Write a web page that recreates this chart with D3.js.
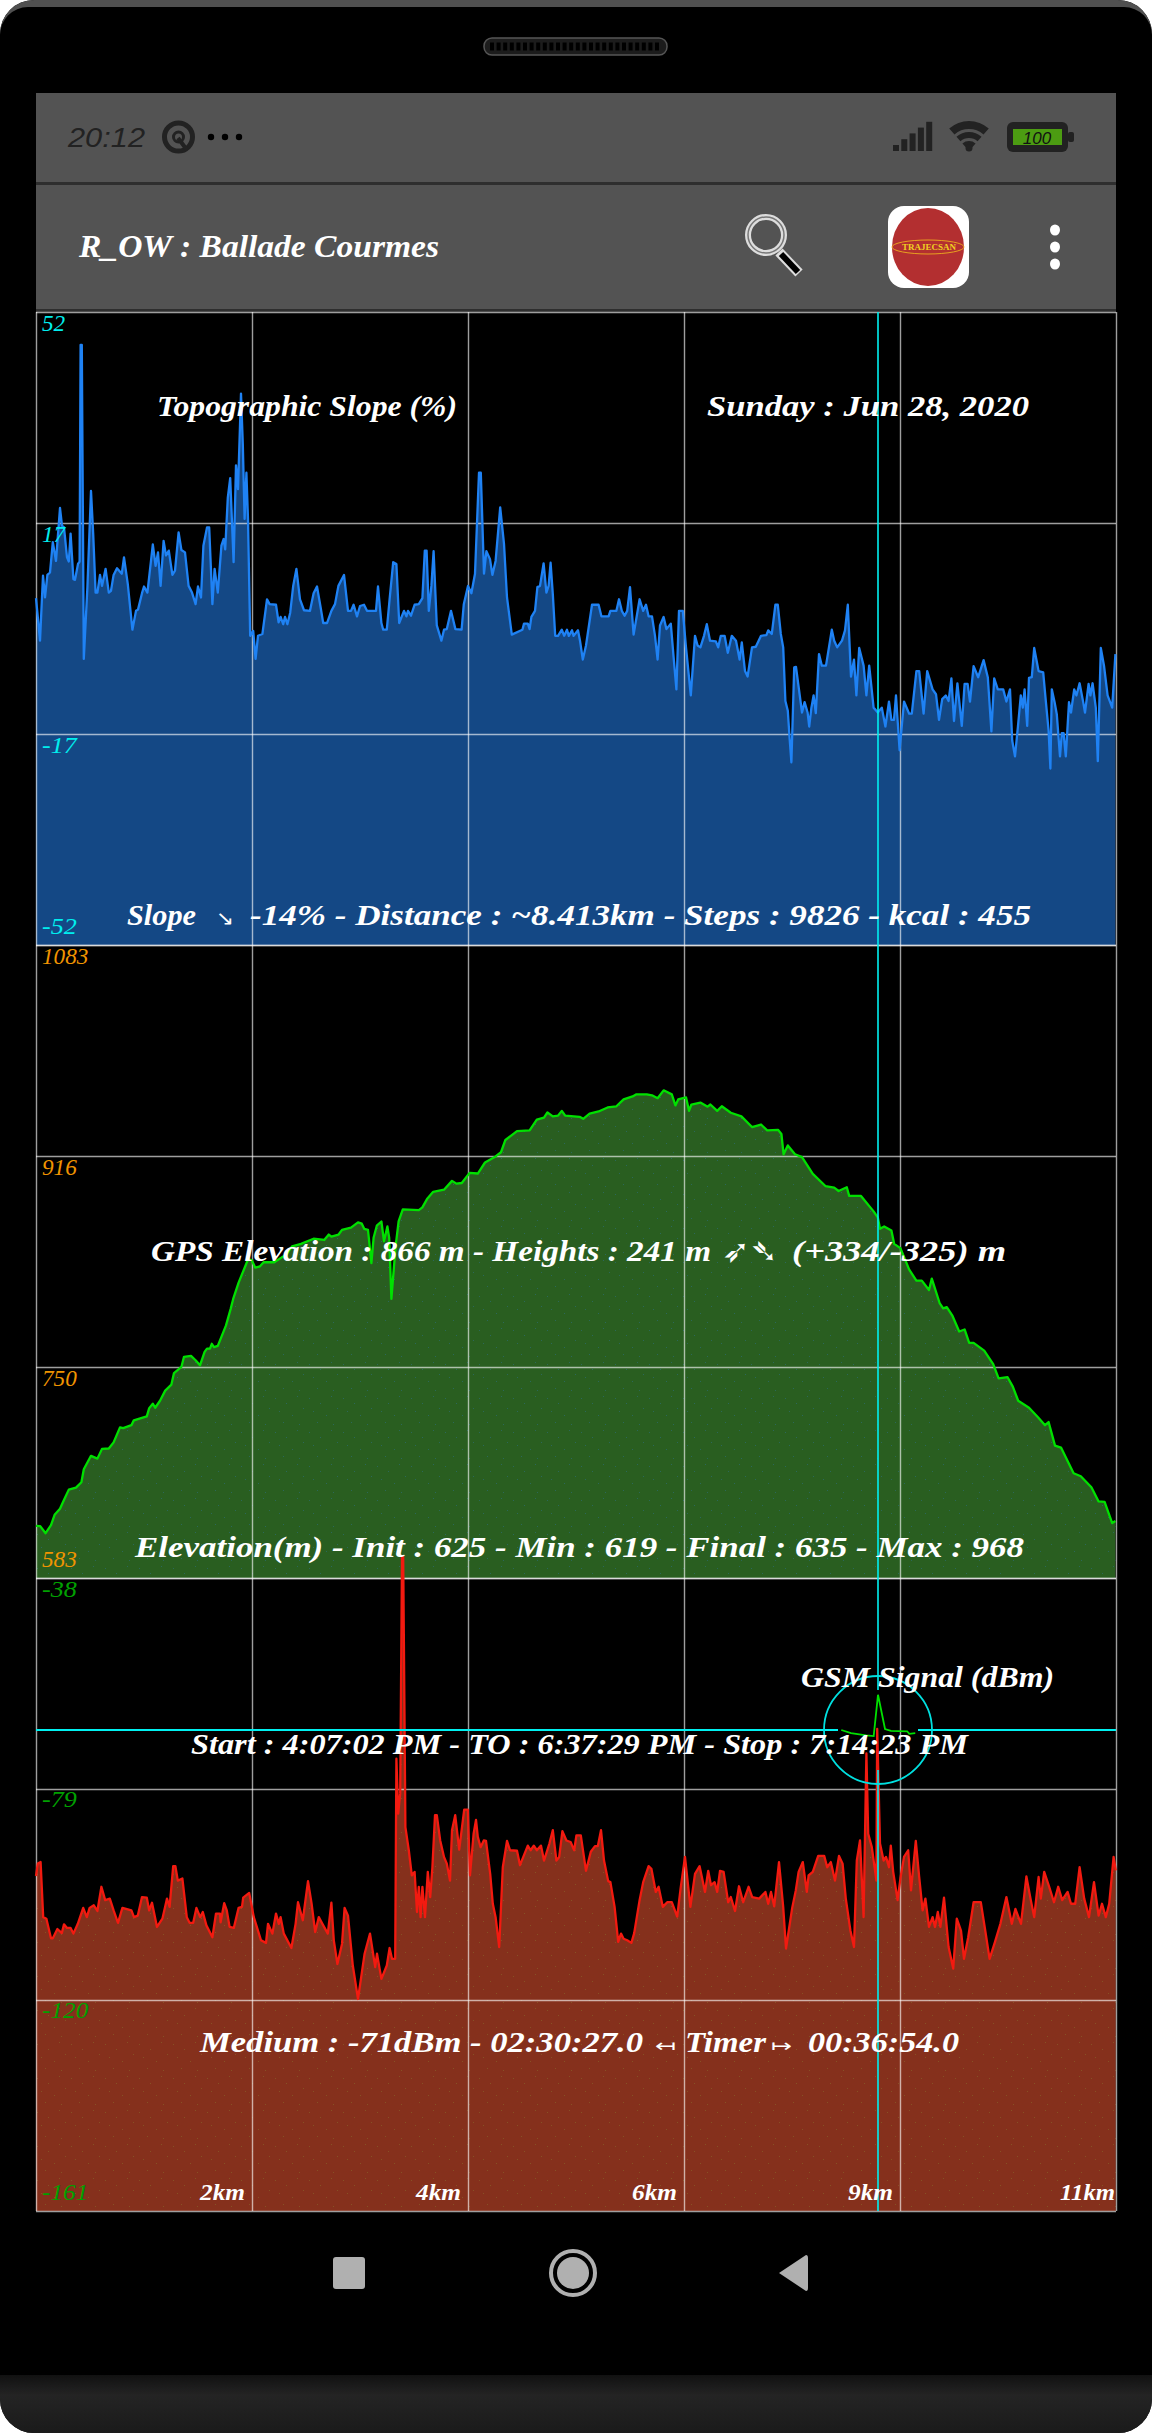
<!DOCTYPE html>
<html><head><meta charset="utf-8">
<style>html,body{margin:0;padding:0;background:#fff}svg{display:block}</style>
<script src="https://cdn.jsdelivr.net/npm/d3@7/dist/d3.min.js"></script>
</head><body><svg id="c" width="1152" height="2433"></svg>
<script>
// ---- data: [track sample, value]; track runs from sample 0 to 540
const slopePoints=[[0,5],[2,-2],[3.5,8.7],[4.5,5.1],[5.7,8.8],[7,9.2],[8.4,14.2],[10,11.1],[12,19.8],[13,16.9],[14,16.6],[15.5,11.7],[16.4,11],[17.3,15.6],[18.7,8.1],[19.5,8],[21,10.6],[21.8,11],[22.3,46.6],[22.9,46.6],[23.9,-5],[25.7,6.8],[27.5,22.6],[28.6,15.5],[29.8,5.9],[30.7,5.9],[32,8.8],[33,7],[34.8,9.8],[36.4,5.9],[37.5,6.2],[38.8,8.8],[40.5,9.9],[42.9,9],[44,11.7],[45.9,7.3],[48.2,-0.2],[50,2.9],[51,3.1],[53,5.8],[54,6.9],[55.7,5.9],[58.4,13.8],[59.8,10.3],[61,12.5],[62.3,7],[63.8,14.4],[65,12],[66.4,12.8],[68.2,8.8],[69.5,9.5],[71.3,15.8],[72.7,12.9],[74.5,12.5],[76.3,7],[78,5.9],[79.8,4],[81,6.9],[82.5,5.1],[83.7,13.6],[85.5,16.6],[86.6,16.6],[88.2,4],[89.3,9.8],[90.9,5.9],[92.7,13.6],[93.8,14.7],[94.6,13],[95.9,21.5],[97.1,24.7],[98.8,10.9],[100,26.8],[101,22.9],[102.5,38.6],[103.4,30.3],[104.3,18],[105.2,25.6],[106,18],[107.1,-1.2],[108.6,-0.4],[109.8,-5],[111,-1.2],[113.2,-0.9],[115.5,4.8],[116.8,4],[120,3.9],[121.3,1],[122.3,1.9],[123.6,0.7],[124.5,1.9],[125.7,0.7],[127.1,2.6],[128.6,7],[130.2,9.8],[132,4.8],[134,3],[137,2.9],[138.8,5.8],[140.5,6.9],[142.3,3.5],[143.6,0.9],[145.5,0.9],[147.7,2.9],[149.5,4],[151.2,7],[154,8.8],[156,2.9],[157.5,2.9],[158.8,3.9],[160.5,2],[162,3.7],[164,3.9],[165.5,2.9],[170,2.9],[171,6.9],[172.7,0.9],[173.6,-0.2],[175.4,-0.2],[176.8,4.8],[178.6,10.9],[180.2,10.6],[181.6,0.9],[184,2.9],[185.2,2],[186,2.9],[187.5,2.1],[189.3,3.9],[191.4,4],[193.2,5],[194.4,12.8],[195.3,12.8],[196.4,2.9],[197.7,7],[198.8,12.7],[200.4,0.5],[202.7,-2],[204,-0.2],[205.4,-0.1],[207.5,2.9],[209.7,-0.1],[212.8,-0.2],[213.9,4],[216,7],[217.7,5.8],[219.5,9],[221.5,25.6],[222.4,25.6],[224,9],[225.2,12.7],[227,11.4],[228.2,8.8],[229.8,11.1],[232.1,19.9],[234,13.9],[235.5,5.1],[237.9,-1],[243.2,-0.2],[244,0.8],[245.9,0.8],[246.8,-0.1],[247.7,1.9],[249.5,2.9],[250.7,6.8],[252,7],[253.8,10.7],[255.2,5.9],[256.3,7],[257.3,10.8],[258.4,5.7],[259.6,-1.2],[261,-1.2],[262.9,-0.2],[264.1,-1.2],[265.5,-0.2],[266.4,-1.2],[268,-0.3],[268.8,-1.2],[271,-0.3],[272,-2],[273.4,-5.1],[275,-2.8],[278,3.9],[281.3,3.9],[282.7,2],[286.3,2],[287.2,2.9],[290.2,2.9],[291.5,4.8],[292.9,2.9],[294.3,2.1],[295.6,2.9],[297,6.8],[298.8,-1],[301.8,4.8],[303.6,2.9],[305,3.9],[306.3,2],[308,2],[309.5,-1.2],[310.8,-5.1],[312,0.5],[313.8,1.9],[315.2,-0.1],[317.4,0.8],[318.8,-4.7],[320.2,-10],[321.5,2.9],[323.4,2.9],[325,-3.1],[327.4,-11],[329.5,-1.2],[330.8,-2.8],[332.2,-3.1],[334,-1.2],[335.4,0.7],[337,-2],[339.9,-2.1],[341.1,-3.1],[342.4,-1.2],[344.3,-1.2],[345.9,-4],[347.9,-1.2],[350,-2],[351.8,-5.1],[352.9,-2.3],[354.5,-7],[355.8,-7.9],[358,-3.1],[359.9,-3],[362.5,-1.2],[365.2,-1.1],[366.1,-0.3],[367.9,-0.9],[369.7,3.9],[370.9,3.9],[372.4,-0.9],[373.6,-3.1],[374.7,-11.9],[375.9,-13.5],[376.8,-18],[377.7,-22],[379.1,-6.4],[380,-6.3],[383,-13.8],[384.3,-12.1],[385.8,-13.8],[386.6,-16.1],[387.7,-13],[388.8,-11],[389.9,-13.9],[391.5,-4.2],[392.9,-6.1],[395,-6.1],[397.9,-0.2],[399.1,-2],[400.6,-3.1],[403,-2],[404.5,-0.3],[405.9,3.9],[407.5,-7.9],[409,-5.1],[410.2,-11],[411.6,-3.2],[413.8,-6.1],[415.2,-11],[416.6,-6.1],[418.8,-13],[420.9,-13.8],[422.9,-13],[424.7,-16.1],[426.5,-12],[427.7,-15],[429,-15],[430,-11],[431.8,-20],[434,-12],[436.6,-14],[437.9,-14],[440.2,-7],[441.6,-7],[443.8,-14],[445.6,-7],[448.3,-10],[450,-10.8],[451.5,-15],[453.1,-11.6],[454.9,-11],[456.3,-11.9],[457.7,-8.2],[459,-15.2],[460.7,-9],[462.9,-16],[464.3,-9.1],[465.8,-9.1],[467,-12],[468.8,-6.2],[471.1,-8],[473.8,-5.2],[475.9,-8],[477.7,-16.9],[479.1,-8.2],[480.9,-10],[483.6,-10],[485.2,-12],[487,-10],[488.1,-18.4],[489.5,-21],[491,-16],[492.4,-11],[493.4,-13],[494.3,-10],[495.6,-16],[496.5,-8.1],[497.9,-8],[499.1,-3.2],[501.3,-7],[503.6,-7.2],[504.9,-11.9],[506.3,-16.8],[507.2,-23],[507.9,-10],[509.3,-12.1],[510.4,-14.1],[512,-21],[512.9,-17.2],[513.8,-17.2],[514.9,-21],[516.5,-12.1],[517.5,-13.8],[519.1,-10],[520.2,-11],[521.8,-9],[523.6,-12.1],[524.5,-13.8],[526.3,-9.1],[527.2,-11],[528.3,-9],[529.9,-13],[530.9,-21.8],[532.4,-3.2],[534,-6.1],[535.8,-11],[538.1,-13],[539.7,-4.2]];
const elevationPoints=[[0,624.2],[2.1,624],[4.8,618.4],[7.5,624.8],[9.3,632.9],[12,637.7],[13.8,644],[16.4,652.8],[20,654.4],[22.7,658.6],[23.9,668.9],[27.5,679.5],[30.7,677.3],[33,685],[36.4,685.3],[38.8,690.1],[42,702],[43.6,701.4],[47.7,703.7],[48.9,707.5],[55.4,710.7],[56.6,717.2],[58.4,720.7],[59.6,717.5],[62,723],[64.6,731],[67.7,735.8],[69,744.9],[72.7,749.7],[74,757.7],[77.5,758.4],[79.8,755],[82,751],[84.3,761.6],[85.5,764.2],[87,764.2],[87.9,768],[89,765.4],[90.9,766.4],[95,782.5],[97.3,795.4],[98.6,803.4],[101.3,816.3],[106,834.6],[107.9,834],[109.6,828.2],[112,829.2],[113.8,832.4],[119.1,832.4],[125.4,838.8],[128,845],[132.5,846.9],[138.8,851],[144.1,850],[146.4,854.3],[147.7,852.7],[151.3,854.3],[153,858],[157.5,859.7],[161,863.9],[162.9,862.9],[164.1,858.8],[166,858],[167.7,831.7],[168.8,851.7],[170.4,861.3],[172.7,864.6],[174,849],[175.7,860.7],[176.6,851.7],[177.7,803.4],[179.8,845],[181.3,864.6],[183.4,874.2],[191.4,873.6],[193.2,875.8],[195.5,882.3],[198.6,888],[204,889.7],[208,896.7],[210.2,894.5],[212.9,895],[216.8,903],[220.9,902.5],[224.5,911.2],[229.8,916],[232.5,919.3],[234.7,929],[237.9,932.8],[240.5,936],[246.8,936.6],[250.4,945],[254,946.6],[255.7,950.8],[258.4,947.6],[261,948.2],[262.9,952],[264.6,948.2],[271.8,947.3],[273.6,945.7],[276.8,949.8],[281.3,951.5],[285.8,954.7],[290.2,955.6],[293.8,961],[298.3,963.4],[300,965],[305.4,965],[308,964.3],[310.8,962],[313.8,968.2],[317.9,965],[319.7,956.3],[321.1,961],[325,962.7],[326.5,952],[327.7,957],[332.2,958.5],[335.8,955.3],[337.2,957],[340.6,952],[342.9,955.6],[347.4,950.5],[352.7,947.6],[358,939.2],[362.5,941.2],[365.6,936.6],[371,937],[372.7,933.8],[373.8,917.7],[375.9,924.7],[379.5,917.7],[383,915.4],[388.4,902.2],[394.7,892.6],[399.1,891.3],[401.3,888.7],[405.4,891.6],[406.6,884.8],[412.5,884.8],[418.8,872.6],[420.9,867.8],[422,858.8],[424.1,860.7],[427.7,857.5],[429.1,846.9],[432.2,843.6],[436.6,826.6],[440.2,817.9],[442.9,817.9],[446.5,810.5],[447.9,819.5],[451.8,800.2],[453.6,796],[455.4,797],[458.1,790.5],[461.6,777.7],[464.3,779.3],[466.6,768.7],[468.8,768.7],[474.1,762.6],[478.6,752],[481.3,740.7],[485.8,741.6],[488.4,734.2],[491.1,723],[496.5,717.5],[501,710],[504.5,703.7],[506.3,706.2],[509.5,687.6],[512.5,686],[518.8,665.7],[522.4,663.4],[527.7,654.7],[531.3,643.5],[534.3,643.2],[538.1,626.4],[539.7,628]];
const signalPoints=[[0,-95.9],[0.9,-93.5],[2.3,-93.2],[3.6,-103.9],[5.2,-104.2],[7.5,-108],[8.4,-108],[10.7,-106.2],[12.9,-107],[14,-105.3],[15.5,-106],[17.3,-106],[18.7,-107.1],[20.9,-105.2],[23.6,-102.1],[25.4,-103.9],[26.8,-102.1],[28.9,-101.6],[30.7,-102.7],[32.7,-98],[34.6,-100.6],[36.9,-100.3],[38.8,-102.6],[41,-105],[43.2,-102.1],[47.7,-102.6],[49,-103.9],[50.9,-103.6],[53,-100],[55.4,-100.1],[56.6,-102.6],[58,-101.1],[60.5,-105.8],[63.2,-104.2],[65.5,-100.3],[66.8,-101.9],[68.6,-94],[69.7,-94],[70.9,-96.8],[73.2,-96.4],[75.4,-103.9],[76.8,-105],[78.6,-105],[80.2,-102.1],[82.1,-103.9],[83.4,-102.9],[85.2,-105.5],[88.2,-107.8],[90,-103.2],[92,-103.2],[92.3,-104.9],[94.1,-101.2],[95.4,-102.6],[96.8,-105.8],[98.9,-106],[101.3,-102.1],[103,-101.9],[103.6,-100.1],[106.6,-99.2],[108.9,-103.9],[112.5,-108.4],[115,-108.9],[116,-105.2],[118.2,-107.1],[120,-103.2],[121.4,-105.2],[122.3,-103.9],[123.9,-107.1],[127.7,-109.9],[129.8,-105.2],[131,-101],[133.4,-104.5],[136,-96.9],[137.8,-101.3],[139.6,-106.8],[141.4,-103.9],[143.2,-105.2],[145.9,-107.1],[147.7,-101.1],[148.9,-108.4],[150.7,-113],[153,-109.1],[154.3,-102.1],[156,-103.6],[158.4,-113.3],[161,-119.8],[164.3,-111],[167,-107.1],[169.6,-113.6],[170.5,-111],[172.7,-115.9],[175.4,-113.3],[176.8,-109.9],[178,-112],[179.6,-112],[180.2,-73.1],[181.1,-83.8],[182.1,-79.9],[183,-33.9],[183.6,-33.9],[184.7,-86.4],[186.4,-90.9],[187.9,-95.8],[189.3,-95.1],[190.5,-102.9],[191.4,-98],[192.3,-103.9],[193.2,-98],[194.5,-103.9],[195.9,-95.1],[197.1,-100],[198.2,-94.2],[199.5,-84.1],[200.4,-84.1],[202.1,-89],[204,-92.2],[205.4,-93.5],[207,-96.8],[208,-87],[209.6,-84.1],[211.6,-90.8],[214.1,-83],[215.9,-83],[217,-95.8],[218.8,-87.7],[220,-85],[220.9,-88.3],[222.3,-90.3],[223.9,-89],[225,-89.1],[227.1,-95.5],[228.4,-101.3],[229.8,-103.9],[231.6,-109.7],[233.4,-94.2],[235.5,-89.1],[237,-90.9],[240.5,-91],[242,-93.8],[245.9,-90],[247.3,-90.9],[248.9,-90],[250.4,-90.9],[252.5,-90],[254,-92.9],[256.7,-89.6],[258.4,-87],[260.2,-92.9],[261.6,-92.2],[263.2,-87.2],[265.2,-89],[267.3,-89.3],[269.1,-90.9],[270.2,-88],[272.4,-88],[275,-94.9],[277.4,-91.2],[279.5,-90.1],[280.9,-90.1],[282.5,-87],[284,-92.9],[286.1,-96.9],[287.2,-97.1],[289.3,-101.9],[291.1,-108.7],[292.5,-107.1],[293.8,-108.1],[295.6,-108.4],[297.7,-108.9],[299.1,-107],[301.8,-100.6],[303.6,-97.1],[306.3,-94],[307.7,-94.5],[309.9,-99],[311.3,-98],[313.4,-101.9],[315.6,-101],[317.9,-101],[320.6,-103.8],[322.4,-98],[324.5,-92.2],[327.2,-101.9],[329.5,-95.5],[331.8,-94],[334.5,-99],[336.1,-94.9],[337.5,-97.7],[339.3,-97.1],[340.6,-99],[342,-94.9],[343.8,-95.1],[346.1,-101],[347.4,-100],[349.5,-102.7],[351.5,-97.9],[353.6,-101],[356.3,-98],[358.1,-100],[361.6,-100.3],[364.7,-99],[366.1,-101.3],[367.5,-99],[369.1,-101.8],[371.5,-93.2],[373.6,-101.9],[375,-110],[378.1,-102.1],[379.9,-98.7],[381.3,-95.1],[383.4,-93.2],[385.4,-99],[386.3,-95.8],[388.4,-95.1],[391.1,-92],[394.1,-92],[395.6,-94.2],[397.4,-93.2],[399.5,-96.8],[401.5,-92],[403.3,-93.5],[404.9,-100.3],[407.2,-106.5],[409,-109.7],[410.4,-92.9],[412,-89],[413.8,-103.9],[415.2,-72.1],[416.1,-87.7],[417.9,-90.3],[420.2,-96.8],[420.6,-67.3],[422,-89.6],[423.8,-92.9],[425,-92.2],[426.5,-94.2],[427.4,-90],[428.6,-95.1],[430.8,-100.6],[432.2,-96.4],[434,-92.2],[436.1,-90.9],[437.5,-98.7],[439.9,-89.1],[441.6,-96.1],[443.3,-102.6],[444.7,-100.3],[446.5,-105.8],[448.3,-103.9],[449.5,-105.8],[450.9,-102.9],[452.2,-105.8],[454,-100.1],[456.3,-109.7],[458.6,-113.9],[460.4,-104.2],[462.5,-106.5],[464,-112],[466.1,-107.8],[468.8,-101],[472.4,-101],[474.5,-106.2],[476.8,-112],[479.5,-108.7],[482.2,-105.2],[485.2,-100],[487.9,-105.2],[489.7,-102.3],[492.5,-105.2],[495.2,-96],[497.4,-100.6],[499.1,-103.9],[501.3,-96.1],[502.4,-100.3],[504.1,-95.1],[506.6,-98],[509,-101],[511.1,-98],[513.1,-100.6],[515.8,-99],[517.5,-101.3],[519.6,-101.3],[521.8,-94.2],[524.1,-100.3],[526.5,-103.9],[529,-97.1],[531.3,-103.6],[533,-101.3],[534.9,-103.9],[536.6,-101.3],[538.8,-92.2],[539.9,-94.8]];
const magnifierPoints=[[-0.68,0],[-0.5,-0.1],[-0.22,-0.17],[-0.08,-0.19],[0,1.1],[0.13,0.03],[0.24,-0.03],[0.54,-0.04],[0.58,-0.12],[0.69,-0.1]];
const slopeTicks=[52,17.33,-17.33,-52];
const elevationTicks=[1083,916.3,749.7,583];
const signalTicks=[-38,-79,-120,-161];
const kmTicks=[108,216,324,432,540];
const kmLabels=["2km","4km","6km","9km","11km"];
const cursorSample=421;
const panelTitles=[
 {t:"Topographic Slope (%)",x0:157,x1:457,y:416},
 {t:"Sunday : Jun 28, 2020",x0:707,x1:1029,y:416},
 {t:"Slope",x0:127,x1:196,y:925},
 {t:"↘",x0:216,x1:234,y:925,thin:1,fs:20},
 {t:"-14% - Distance : ~8.413km - Steps : 9826 - kcal : 455",x0:250,x1:1031,y:925},
 {t:"GPS Elevation : 866 m - Heights : 241 m",x0:151,x1:711,y:1261},
 {t:"➶➴",x0:722,x1:778,y:1262,thin:1,fs:32},
 {t:"(+334/-325) m",x0:792,x1:1006,y:1261},
 {t:"Elevation(m) - Init : 625 - Min : 619 - Final : 635 - Max : 968",x0:135,x1:1024,y:1557},
 {t:"GSM Signal (dBm)",x0:801,x1:1054,y:1687},
 {t:"Start : 4:07:02 PM - TO : 6:37:29 PM - Stop : 7:14:23 PM",x0:191,x1:968,y:1754},
 {t:"Medium : -71dBm - 02:30:27.0",x0:200,x1:643,y:2052},
 {t:"↤",x0:655,x1:676,y:2052,thin:1,fs:18},
 {t:"Timer",x0:685,x1:766,y:2052},
 {t:"↦",x0:771,x1:792,y:2052,thin:1,fs:18},
 {t:"00:36:54.0",x0:808,x1:959,y:2052}
];

const FONT='"Liberation Serif","DejaVu Sans",serif';
const svg=d3.select("#c");
const W=1152,H=2433,L=36,R=1116,PH=633;
const defs=svg.append("defs");
defs.append("clipPath").attr("id","body").append("rect").attr("width",W).attr("height",H).attr("rx",34);
const bg=defs.append("linearGradient").attr("id","foot").attr("x1",0).attr("x2",0).attr("y1",0).attr("y2",1);
bg.append("stop").attr("offset",0).attr("stop-color","#111");
bg.append("stop").attr("offset",.35).attr("stop-color","#242424");
bg.append("stop").attr("offset",1).attr("stop-color","#1a1a1a");
// fill speckle
const speck=[[3,4],[14,9],[25,2],[7,17],[20,21],[31,14],[11,28],[27,30]];
[["speckRed","#8a7a30",.45],["speckGreen","#2c78b0",.4]].forEach(([id,col,op])=>{
  const pt=defs.append("pattern").attr("id",id).attr("width",34).attr("height",34).attr("patternUnits","userSpaceOnUse");
  speck.forEach(s=>pt.append("rect").attr("x",s[0]).attr("y",s[1]).attr("width",1).attr("height",1).attr("fill",col).attr("opacity",op));
});

// ---- phone body
const body=svg.append("g").attr("clip-path","url(#body)");
body.append("rect").attr("width",W).attr("height",H).attr("fill","#000");
body.append("rect").attr("width",W).attr("height",40).attr("fill","#505050");
body.append("rect").attr("x",0).attr("y",7).attr("width",W).attr("height",120).attr("rx",28).attr("fill","#000");
body.append("rect").attr("x",0).attr("y",60).attr("width",W).attr("height",40).attr("fill","#000");
body.append("rect").attr("y",2375).attr("width",W).attr("height",58).attr("fill","url(#foot)");
// speaker
svg.append("rect").attr("x",484).attr("y",38).attr("width",183).attr("height",17).attr("rx",8).attr("fill","#1c1c1c").attr("stroke","#555").attr("stroke-width",1.5);
svg.append("line").attr("x1",490).attr("x2",661).attr("y1",46.5).attr("y2",46.5).attr("stroke","#000").attr("stroke-width",8).attr("stroke-dasharray","4 2.6");
// status bar and app bar
svg.append("rect").attr("x",L).attr("y",93).attr("width",R-L).attr("height",89).attr("fill","#535353");
svg.append("rect").attr("x",L).attr("y",182).attr("width",R-L).attr("height",3).attr("fill","#2e2e2e");
svg.append("rect").attr("x",L).attr("y",185).attr("width",R-L).attr("height",124).attr("fill","#535353");
svg.append("rect").attr("x",L).attr("y",309).attr("width",R-L).attr("height",3).attr("fill","#2e2e2e");
const dark="#222";
svg.append("text").attr("x",68).attr("y",147).attr("font-family","'Liberation Sans'").attr("font-style","italic").attr("font-size",28).attr("fill",dark).attr("textLength",77).attr("lengthAdjust","spacingAndGlyphs").text("20:12");
svg.append("ellipse").attr("cx",178.5).attr("cy",137).attr("rx",14).attr("ry",14).attr("fill","none").attr("stroke",dark).attr("stroke-width",5);
svg.append("ellipse").attr("cx",178.5).attr("cy",137).attr("rx",5).attr("ry",5).attr("fill","none").attr("stroke",dark).attr("stroke-width",3);
svg.append("line").attr("x1",178).attr("x2",187).attr("y1",138).attr("y2",150).attr("stroke",dark).attr("stroke-width",4);
[211,225,239].forEach(x=>svg.append("circle").attr("cx",x).attr("cy",137).attr("r",3.2).attr("fill","#000"));
[0,1,2,3,4].forEach(i=>svg.append("rect").attr("x",893+i*8.3).attr("y",151-(6+i*5.8)).attr("width",6).attr("height",6+i*5.8).attr("fill",dark));
const wifi=d3.arc().startAngle(-0.72).endAngle(0.72);
[[22,30],[13,19],[5,10]].forEach(([a,b])=>svg.append("path").attr("transform","translate(969,151)").attr("d",wifi({innerRadius:a,outerRadius:b})).attr("fill",dark));
svg.append("circle").attr("cx",969).attr("cy",148).attr("r",3.5).attr("fill",dark);
svg.append("rect").attr("x",1007).attr("y",122).attr("width",61).attr("height",30).attr("rx",6).attr("fill",dark);
svg.append("rect").attr("x",1068).attr("y",132).attr("width",6).attr("height",10).attr("rx",2).attr("fill",dark);
svg.append("rect").attr("x",1013).attr("y",129).attr("width",49).attr("height",16).attr("fill","#4c9c12");
svg.append("text").attr("x",1037).attr("y",144).attr("text-anchor","middle").attr("font-family","'Liberation Sans'").attr("font-style","italic").attr("font-size",17).attr("fill","#111").text("100");
svg.append("text").attr("x",79).attr("y",257).attr("font-family",FONT).attr("font-style","italic").attr("font-weight","bold").attr("font-size",32).attr("fill","#fff").attr("textLength",360).attr("lengthAdjust","spacingAndGlyphs").text("R_OW : Ballade Courmes");
// search icon
svg.append("circle").attr("cx",766).attr("cy",235).attr("r",18).attr("fill","none").attr("stroke","#ddd").attr("stroke-width",6);
svg.append("circle").attr("cx",766).attr("cy",235).attr("r",18).attr("fill","none").attr("stroke","#777").attr("stroke-width",1.5);
svg.append("line").attr("x1",779).attr("x2",799).attr("y1",252).attr("y2",273).attr("stroke","#ddd").attr("stroke-width",10);
svg.append("line").attr("x1",781).attr("x2",798).attr("y1",254).attr("y2",272).attr("stroke","#000").attr("stroke-width",6);
// logo
svg.append("rect").attr("x",888).attr("y",206).attr("width",81).attr("height",82).attr("rx",16).attr("fill","#fff");
svg.append("ellipse").attr("cx",928).attr("cy",247).attr("rx",36).attr("ry",39).attr("fill","#b32f30");
svg.append("ellipse").attr("cx",928).attr("cy",247).attr("rx",36).attr("ry",7).attr("fill","none").attr("stroke","#e8a020").attr("stroke-width",1);
svg.append("text").attr("x",929).attr("y",250).attr("text-anchor","middle").attr("font-family","'Liberation Serif'").attr("font-size",9).attr("font-weight","bold").attr("fill","#f0d020").text("TRAJECSAN");
[230,247,264].forEach(y=>svg.append("ellipse").attr("cx",1055).attr("cy",y).attr("rx",5).attr("ry",5.5).attr("fill","#fff"));
// nav keys
svg.append("rect").attr("x",333).attr("y",2257).attr("width",32).attr("height",32).attr("rx",3).attr("fill","#b0b0b0");
svg.append("circle").attr("cx",573).attr("cy",2273).attr("r",22).attr("fill","none").attr("stroke","#b0b0b0").attr("stroke-width",4);
svg.append("circle").attr("cx",573).attr("cy",2273).attr("r",16).attr("fill","#b0b0b0");
svg.append("path").attr("d","M779,2273L806,2255Q808,2255 808,2258V2288Q808,2291 806,2291Z").attr("fill","#b0b0b0");

// ---- panels
const x=d3.scaleLinear().domain([0,540]).range([L,R]);
const panels=[
 {top:312,dom:[-52,52],ticks:slopeTicks,pts:slopePoints,fill:"#144885",line:"#1f82f4",label:"#00eeee",ly:[331,542,753,934]},
 {top:945,dom:[583,1083],ticks:elevationTicks,pts:elevationPoints,fill:"#295e20",line:"#00e000",label:"#f09400",ly:[964,1175,1386,1567],speck:"speckGreen"},
 {top:1578,dom:[-161,-38],ticks:signalTicks,pts:signalPoints,fill:"#85301c",line:"#f21a10",label:"#00a000",ly:[1597,1807,2018,2200],speck:"speckRed"}
];
const gridCol="#fff";
panels.forEach(p=>{
  const y=d3.scaleLinear().domain(p.dom).range([p.top+PH,p.top]);
  p.y=y;
  const area=d3.area().x(d=>x(d[0])).y0(p.top+PH).y1(d=>y(d[1]));
  svg.append("path").datum(p.pts).attr("fill",p.fill).attr("d",area);
  if(p.speck) svg.append("path").datum(p.pts).attr("fill",`url(#${p.speck})`).attr("d",area);
});
panels.forEach(p=>{
  const y=p.y;
  const gy=svg.append("g").attr("transform",`translate(${L},0)`)
     .call(d3.axisLeft(y).tickValues(p.ticks).tickSize(-(R-L)).tickFormat(""));
  gy.select(".domain").remove();
  const gx=svg.append("g").attr("transform",`translate(0,${p.top+PH})`)
     .call(d3.axisBottom(x).tickValues([0].concat(kmTicks)).tickSize(-PH).tickFormat(""));
  gx.select(".domain").remove();
  svg.selectAll(".tick line").attr("stroke",gridCol).attr("stroke-opacity",.62).attr("stroke-width",1.4);
});
panels.forEach(p=>{
  const y=p.y;
  svg.append("path").datum(p.pts).attr("fill","none").attr("stroke",p.line).attr("stroke-width",2.3).attr("stroke-linejoin","round")
     .attr("d",d3.line().x(d=>x(d[0])).y(d=>y(d[1])));
});

// ---- cursor and magnifier
const cx=x(cursorSample), cy=1730, cr=54;
const cyan="#00f0f0";
svg.append("line").attr("x1",cx).attr("x2",cx).attr("y1",312).attr("y2",cy-40).attr("stroke",cyan).attr("stroke-width",1.6);
svg.append("line").attr("x1",cx).attr("x2",cx).attr("y1",cy+40).attr("y2",2211).attr("stroke",cyan).attr("stroke-width",1.6);
svg.append("line").attr("x1",L).attr("x2",cx-40).attr("y1",cy).attr("y2",cy).attr("stroke",cyan).attr("stroke-width",1.8);
svg.append("line").attr("x1",cx+40).attr("x2",R).attr("y1",cy).attr("y2",cy).attr("stroke",cyan).attr("stroke-width",1.8);
svg.append("circle").attr("cx",cx).attr("cy",cy).attr("r",cr).attr("fill","none").attr("stroke","#00e0e0").attr("stroke-width",1.8);
const mx=d3.scaleLinear().domain([-1,1]).range([cx-cr,cx+cr]);
const my=d3.scaleLinear().domain([-1,1]).range([cy+32,cy-32]);
svg.append("path").datum(magnifierPoints).attr("fill","none").attr("stroke","#00e000").attr("stroke-width",1.8)
   .attr("d",d3.line().x(d=>mx(d[0])).y(d=>my(d[1])));

// ---- tick labels
panels.forEach(p=>{
  p.ticks.forEach((t,i)=>{
    const s=String(Math.round(t));
    svg.append("text").attr("x",42).attr("y",p.ly[i]).attr("font-family",FONT).attr("font-style","italic").attr("font-size",23)
       .attr("fill",p.label).attr("textLength",s.length*11.6).attr("lengthAdjust","spacingAndGlyphs").text(s);
  });
});
kmTicks.forEach((k,i)=>{
  const w=kmLabels[i].length==3?45:55;
  svg.append("text").attr("x",x(k)-(i==4?1:7)-w).attr("y",2200).attr("font-family",FONT)
     .attr("font-style","italic").attr("font-weight","bold").attr("font-size",24).attr("fill","#fff")
     .attr("textLength",w).attr("lengthAdjust","spacingAndGlyphs").text(kmLabels[i]);
});
// ---- captions
panelTitles.forEach(d=>{
  svg.append("text").attr("x",d.x0).attr("y",d.y).attr("font-family",d.thin?'"DejaVu Sans"':FONT).attr("font-style",d.thin?"normal":"italic")
     .attr("font-weight",d.thin?"normal":"bold").attr("font-size",d.fs||30).attr("fill","#fff")
     .attr("textLength",d.x1-d.x0).attr("lengthAdjust","spacingAndGlyphs").text(d.t);
});
</script></body></html>
